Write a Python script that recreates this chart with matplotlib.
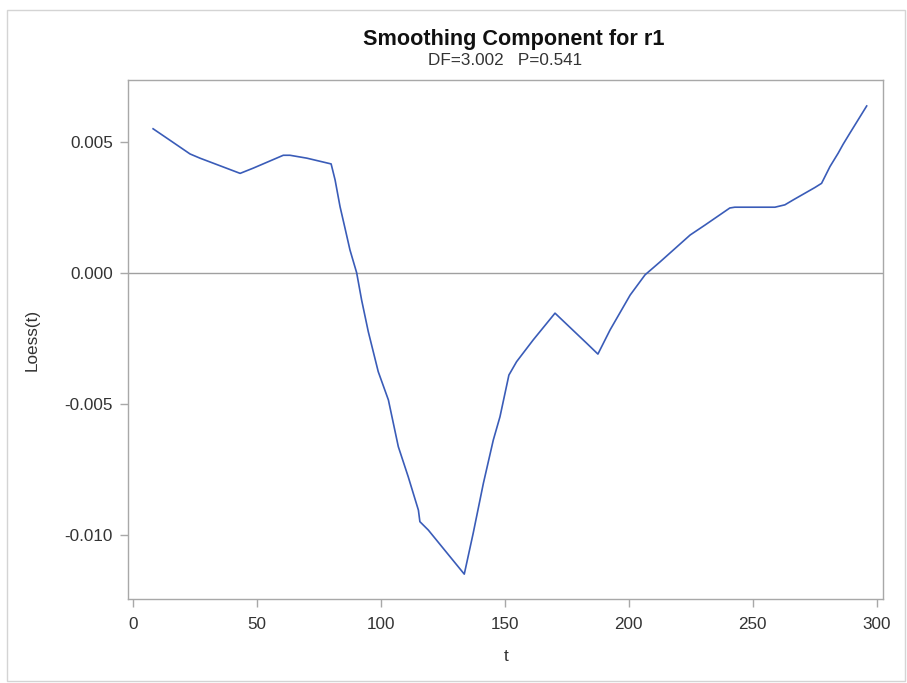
import matplotlib
matplotlib.use("Agg")
import matplotlib.pyplot as plt
from matplotlib.patches import Rectangle

# Loess smoothing component estimates
t = [8.2, 15.2, 23.1, 27.1, 43.3, 48.6, 60.7, 63.4, 70.2, 80.0, 81.6, 83.6,
     85.6, 87.6, 90.3, 92.3, 95.0, 99.0, 103.1, 107.1, 111.1, 115.2, 115.8,
     119.2, 128.0, 133.7, 137.3, 141.4, 145.4, 148.1, 151.7, 154.8, 161.5,
     170.3, 183.1, 187.6, 192.5, 200.6, 206.6, 212.6, 224.8, 230.8, 240.8,
     242.8, 259.0, 263.0, 266.4, 275.1, 277.8, 281.2, 284.5, 286.5, 289.2,
     296.0]
loess = [0.00549, 0.00504, 0.00453, 0.00437, 0.00379, 0.00399, 0.00448,
         0.00448, 0.00437, 0.00415, 0.00354, 0.00252, 0.00170, 0.00087,
         0.00000, -0.00104, -0.00225, -0.00377, -0.00485, -0.00663, -0.00778,
         -0.00905, -0.00949, -0.00981, -0.01083, -0.01149, -0.00993, -0.00803,
         -0.00638, -0.00549, -0.00390, -0.00339, -0.00256, -0.00154, -0.00269,
         -0.00310, -0.00218, -0.00085, -0.00008, 0.00041, 0.00144, 0.00182,
         0.00247, 0.00250, 0.00250, 0.00259, 0.00278, 0.00325, 0.00341,
         0.00405, 0.00456, 0.00490, 0.00532, 0.00636]

x_ticks = [0, 50, 100, 150, 200, 250, 300]
y_ticks = [0.005, 0.000, -0.005, -0.010]
y_tick_labels = ["0.005", "0.000", "-0.005", "-0.010"]

title = "Smoothing Component for r1"
subtitle = "DF=3.002   P=0.541"

plt.rcParams["font.family"] = ["Liberation Sans", "DejaVu Sans"]

W, H = 907, 683
fig = plt.figure(figsize=(W / 100, H / 100), dpi=100)
fig.patch.set_facecolor("white")

# outer frame around the graph
fig.add_artist(Rectangle((7 / W, 2 / H), 898 / W, 671 / H,
                         transform=fig.transFigure, fill=False,
                         edgecolor="#d4d4d4", linewidth=1.0))

ax = fig.add_axes([128.3 / W, (H - 599.3) / H, 755.0 / W, 519.3 / H])

frame_col = "#a8a8a8"
ax.axhline(0, color="#a0a0a0", linewidth=1.0, zorder=1)
ax.plot(t, loess, color="#3a5cb8", linewidth=1.2, zorder=2)

ax.set_xlim(-1.8, 302.7)
ax.set_ylim(-0.01245, 0.00735)
ax.set_xticks(x_ticks)
ax.set_yticks(y_ticks)
ax.set_yticklabels(y_tick_labels)

for s in ax.spines.values():
    s.set_color(frame_col)
    s.set_linewidth(1.0)
ax.tick_params(axis="both", direction="out", length=6, width=1.0,
               color=frame_col, labelcolor="#333333", labelsize=12.3)
ax.tick_params(axis="x", pad=7)
ax.tick_params(axis="y", pad=5)

ax.set_xlabel("t", fontsize=12.3, color="#333333", labelpad=12)
ax.set_ylabel("Loess(t)", fontsize=12.3, color="#333333", labelpad=18)

fig.text(513.5 / W, 1 - 44.5 / H, title, ha="center", va="baseline",
         fontsize=15.6, fontweight="bold", color="#111111")
fig.text(505 / W, 1 - 65 / H, subtitle, ha="center", va="baseline",
         fontsize=12.3, color="#333333")

fig.savefig("out.png", dpi=100, facecolor="white")
